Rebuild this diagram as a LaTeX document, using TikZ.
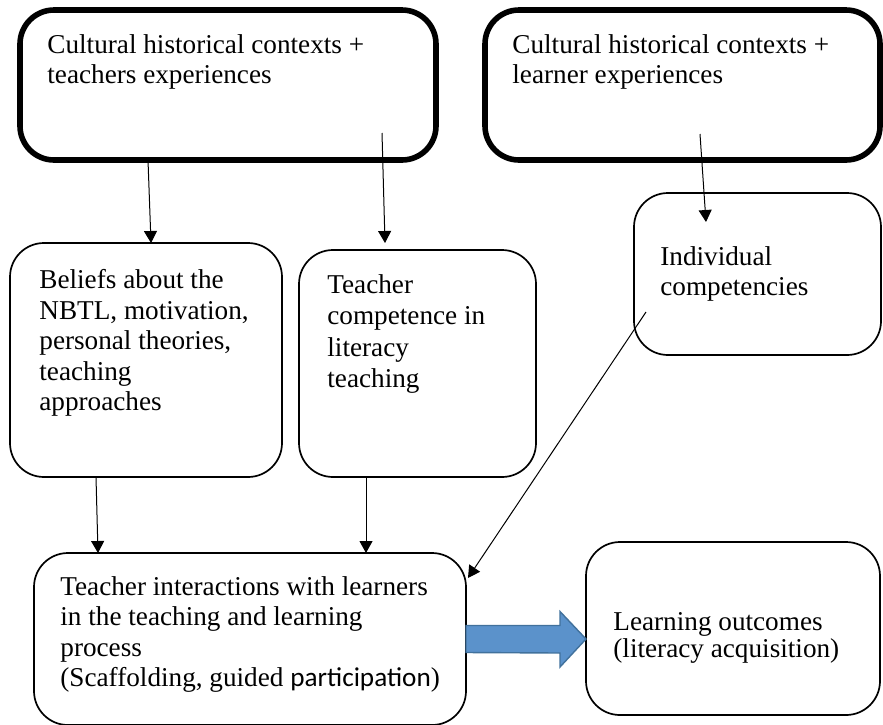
\documentclass[tikz,border=0pt]{standalone}
\usepackage{fontspec}
\setmainfont{Liberation Serif}
\newfontfamily\calibri{Carlito}
\usetikzlibrary{arrows.meta,calc}

\definecolor{flowblue}{RGB}{91,146,203}
\definecolor{flowedge}{RGB}{65,113,156}

\begin{document}
\begin{tikzpicture}[x=0.5pt,y=-0.5pt,font=\fontsize{13.6}{15.25}\selectfont,
  panel/.style={draw,rounded corners=17pt,inner sep=0pt,outer sep=0pt},
  label/.style={anchor=north west,align=left,inner sep=0pt},
  link/.style={line width=0.5pt,-{Triangle[length=6pt,width=6.5pt]}},
  flow/.style={fill=flowblue,draw=flowedge,line width=0.7pt,line join=miter}]
\useasboundingbox (0,0) rectangle (883,724);
% context boxes, heavy border
\foreach \n/\cx/\w in {ctxT/228/416,ctxL/682.5/395}{
  \node[panel,line width=2.8pt,minimum width=\w*0.5pt,minimum height=75pt] (\n) at (\cx,85) {};
}
% the remaining boxes
\foreach \n/\cx/\cy/\w/\h in {beliefs/146/360/272/234,compet/417.5/363.5/237/227,indiv/757.5/274/247/162,interact/250/639/432/172,outcome/733/628.5/294/173}{
  \node[panel,line width=0.85pt,minimum width=\w*0.5pt,minimum height=\h*0.5pt] (\n) at (\cx,\cy) {};
}
\node[label] (tT) at (47,34) {Cultural historical contexts +\\teachers experiences};
\node[label] (tL) at (512,34) {Cultural historical contexts +\\learner experiences};
\node[label] (tB) at (39,269) {Beliefs about the\\NBTL, motivation,\\personal theories,\\teaching\\approaches};
\node[label,font=\fontsize{13.6}{15.7}\selectfont] (tC) at (327,274) {Teacher\\competence in\\literacy\\teaching};
\node[label] (tI) at (660,246) {Individual\\competencies};
\node[label] (tX) at (60,576) {Teacher interactions with learners\\in the teaching and learning\\process\\(Scaffolding, guided {\calibri participation})};
\node[label,font=\fontsize{13.6}{13.5}\selectfont] (tO) at (613,612) {Learning outcomes\\(literacy acquisition)};
% arrows
\draw[link] ([xshift=64pt]ctxT.south west) -- ([xshift=70.5pt]beliefs.north west);
\draw[link] ([xshift=-27pt,yshift=13.5pt]ctxT.south east) -- ([xshift=43pt,yshift=3.5pt]compet.north west);
\draw[link] ([xshift=107.5pt,yshift=13pt]ctxL.south west) -- ([xshift=36pt,yshift=-14.5pt]indiv.north west);
\draw[link] ([xshift=43pt]beliefs.south west) -- ([xshift=32pt]interact.north west);
\draw[link] ([xshift=33.5pt]compet.south west) -- ([xshift=166pt]interact.north west);
\draw[link] ([xshift=6pt,yshift=21.5pt]indiv.south west) -- ([xshift=1pt,yshift=-12.5pt]interact.north east);
% block arrow to the outcomes
\draw[flow] ([yshift=6.75pt]interact.east) -- ++(47pt,0) -- ++(0,7pt)
  -- (interact.east -| outcome.west) -- ++(-13pt,-14pt) -- ++(0,7pt)
  -- ([yshift=-6.75pt]interact.east) -- cycle;
\end{tikzpicture}
\end{document}
